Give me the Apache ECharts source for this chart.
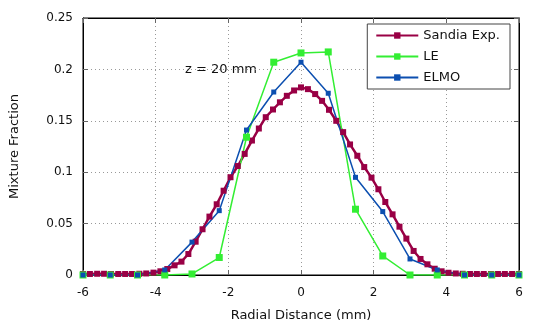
<!DOCTYPE html>
<html>
<head>
<meta charset="utf-8">
<script src="https://cdn.jsdelivr.net/npm/echarts@6/dist/echarts.min.js"></script>
<style>
    html, body { margin: 0; padding: 0; background: #fff; }
    #myChart { width: 545px; height: 327px; }
</style>
</head>
<body>
<div id="myChart"></div>
<script>
    // Sandia experiment: radial positions (mm) and mixture fraction
    var sandiaX = [-6.00, -5.81, -5.61, -5.42, -5.23, -5.03, -4.84, -4.65, -4.45, -4.26,
        -4.06, -3.87, -3.68, -3.48, -3.29, -3.10, -2.90, -2.71, -2.52, -2.32,
        -2.13, -1.94, -1.74, -1.55, -1.35, -1.16, -0.97, -0.77, -0.58, -0.39,
        -0.19, 0.00, 0.19, 0.39, 0.58, 0.77, 0.97, 1.16, 1.35, 1.55,
        1.74, 1.94, 2.13, 2.32, 2.52, 2.71, 2.90, 3.10, 3.29, 3.48,
        3.68, 3.87, 4.06, 4.26, 4.45, 4.65, 4.84, 5.03, 5.23, 5.42,
        5.61, 5.81, 6.00];
    var sandiaY = [0.001, 0.001, 0.0012, 0.0012, 0.001, 0.001, 0.001, 0.001, 0.0012, 0.0015,
        0.0023, 0.0036, 0.0058, 0.0094, 0.013, 0.0204, 0.0324, 0.0445, 0.0568, 0.0688,
        0.082, 0.0951, 0.106, 0.1178, 0.1308, 0.1425, 0.1535, 0.161, 0.168, 0.1743,
        0.1795, 0.1825, 0.1808, 0.176, 0.1694, 0.1607, 0.150, 0.139, 0.127, 0.116,
        0.105, 0.0947, 0.0834, 0.071, 0.059, 0.047, 0.0354, 0.0234, 0.0156, 0.0104,
        0.0061, 0.0036, 0.0022, 0.0015, 0.0012, 0.001, 0.001, 0.001, 0.001, 0.001,
        0.001, 0.001, 0.001];

    // model results on a coarser grid
    var modelX = [-6, -5.25, -4.5, -3.75, -3, -2.25, -1.5, -0.75, 0, 0.75, 1.5, 2.25, 3, 3.75, 4.5, 5.25, 6];
    var leY = [0, 0, 0, 0, 0.001, 0.017, 0.134, 0.207, 0.216, 0.217, 0.064, 0.0185, 0, 0, 0, 0, 0];
    var elmoY = [0, 0, 0, 0.0049, 0.032, 0.0626, 0.141, 0.178, 0.207, 0.1768, 0.095, 0.0617, 0.0156, 0.0049, 0, 0, 0];

    var xTicks = [-6, -4, -2, 0, 2, 4, 6];
    var yTicks = [0, 0.05, 0.1, 0.15, 0.2, 0.25];

    function pairs(xs, ys) {
        var out = [];
        for (var i = 0; i < xs.length; i++) {
            out.push([xs[i], ys[i]]);
        }
        return out;
    }

    var myChart = echarts.init(document.getElementById('myChart'), null, {renderer: 'canvas'});
    var font = 'DejaVu Sans';
    var gridLine = {show: true, lineStyle: {color: '#999', type: [1, 3], width: 1}};
    var frameLine = {show: true, onZero: false, lineStyle: {color: '#000'}};
    var innerTick = {show: true, inside: true, length: 5, lineStyle: {color: '#666'}};

    var option = {
        animation: false,
        textStyle: {fontFamily: font},
        grid: {
            left: 82, right: 26, top: 18, bottom: 52,
            show: true, borderColor: '#000', borderWidth: 1
        },
        legend: {
            orient: 'vertical',
            right: 35,
            top: 24,
            padding: [5, 10, 5, 8],
            itemWidth: 42,
            itemHeight: 8,
            itemGap: 8,
            borderColor: '#444',
            borderWidth: 1,
            backgroundColor: '#fff',
            textStyle: {fontFamily: font, fontSize: 13, color: '#111'},
            data: ['Sandia Exp.', 'LE', 'ELMO']
        },
        xAxis: [{
            type: 'value',
            min: xTicks[0],
            max: xTicks[xTicks.length - 1],
            interval: 2,
            name: 'Radial Distance (mm)',
            nameLocation: 'middle',
            nameGap: 34,
            nameTextStyle: {fontSize: 13, color: '#111'},
            axisLine: frameLine,
            axisTick: innerTick,
            axisLabel: {fontSize: 12, color: '#111', margin: 12},
            splitLine: gridLine
        }, {
            type: 'value',
            position: 'top',
            min: xTicks[0],
            max: xTicks[xTicks.length - 1],
            interval: 2,
            axisLine: frameLine,
            axisTick: innerTick,
            axisLabel: {show: false},
            splitLine: {show: false}
        }],
        yAxis: [{
            type: 'value',
            min: yTicks[0],
            max: yTicks[yTicks.length - 1],
            interval: 0.05,
            name: 'Mixture Fraction',
            nameLocation: 'middle',
            nameGap: 62,
            nameTextStyle: {fontSize: 13, color: '#111'},
            axisLine: frameLine,
            axisTick: innerTick,
            axisLabel: {fontSize: 12, color: '#111', margin: 10},
            splitLine: gridLine
        }, {
            type: 'value',
            position: 'right',
            min: yTicks[0],
            max: yTicks[yTicks.length - 1],
            interval: 0.05,
            axisLine: frameLine,
            axisTick: innerTick,
            axisLabel: {show: false},
            splitLine: {show: false}
        }],
        graphic: [{
            type: 'text',
            left: 185,
            top: 63,
            style: {text: 'z = 20 mm', font: '13px "DejaVu Sans"', fill: '#111'}
        }],
        series: [
            {
                name: 'Sandia Exp.',
                type: 'line',
                data: pairs(sandiaX, sandiaY),
                symbol: 'rect',
                symbolSize: 6,
                showAllSymbol: true,
                lineStyle: {color: '#990045', width: 2.5},
                itemStyle: {color: '#990045'}
            },
            {
                name: 'LE',
                type: 'line',
                data: pairs(modelX, leY),
                symbol: 'rect',
                symbolSize: 7,
                showAllSymbol: true,
                lineStyle: {color: '#33ee33', width: 1.5},
                itemStyle: {color: '#33ee33'}
            },
            {
                name: 'ELMO',
                type: 'line',
                data: pairs(modelX, elmoY),
                symbol: 'rect',
                symbolSize: 5,
                showAllSymbol: true,
                lineStyle: {color: '#0c4fb0', width: 1.5},
                itemStyle: {color: '#0c4fb0'}
            }
        ]
    };

    myChart.setOption(option);
</script>
</body>
</html>
